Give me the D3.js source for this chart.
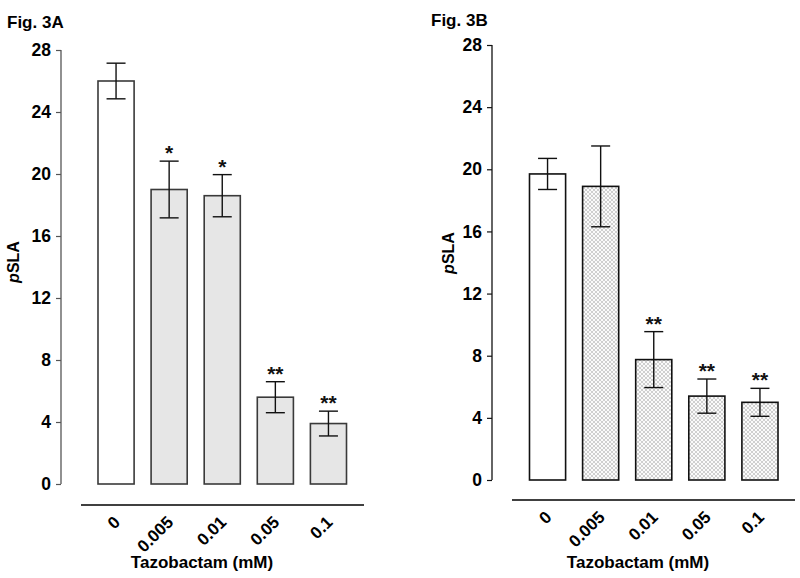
<!DOCTYPE html>
<html><head><meta charset="utf-8">
<script src="https://cdn.jsdelivr.net/npm/d3@7"></script>
<style>body{margin:0;background:#fff}svg{display:block}text{font-family:"Liberation Sans",Arial,sans-serif;font-weight:bold}</style>
</head><body>
<svg id="c" width="800" height="578"></svg>
<script>
const categories = ["0", "0.005", "0.01", "0.05", "0.1"];
const yTicks = [0, 4, 8, 12, 16, 20, 24, 28];
const meansA = [26.0, 19.0, 18.6, 5.6, 3.9];
const errA = [1.15, 1.83, 1.36, 1.0, 0.8];
const sigA = ["", "*", "*", "**", "**"];
const meansB = [19.7, 18.9, 7.75, 5.4, 5.0];
const errB = [1.0, 2.6, 1.8, 1.1, 0.9];
const sigB = ["", "", "**", "**", "**"];

const svg = d3.select("#c");
const defs = svg.append("defs");
const pat = defs.append("pattern").attr("id", "hatch").attr("patternUnits", "userSpaceOnUse")
  .attr("width", 4).attr("height", 4);
pat.append("rect").attr("width", 4).attr("height", 4).attr("fill", "#fafafa");
pat.append("path").attr("d", "M0,0L4,4M4,0L0,4").attr("stroke", "#c4c4c4").attr("stroke-width", 0.8);

function panel(cfg) {
  const g = svg.append("g");
  const y = d3.scaleLinear().domain([0, 28]).range([cfg.y0, cfg.y28]);
  const x = d3.scaleBand().domain(categories).range(cfg.xr).paddingInner(0.32).paddingOuter(0.16);
  const ax = g.append("g").attr("transform", `translate(${cfg.axX},0)`)
    .call(d3.axisLeft(y).tickValues(yTicks).tickSize(5).tickPadding(5).tickFormat(d3.format("d")));
  ax.select(".domain").attr("stroke", cfg.axColor).attr("stroke-width", 1.3).attr("d", `M0,${cfg.y28}V${cfg.y0}`);
  ax.selectAll(".tick line").attr("stroke", cfg.axColor).attr("stroke-width", 1.2);
  ax.selectAll(".tick text").attr("font-size", 17.5).attr("font-weight", "bold").attr("fill", "#000")
    .attr("font-family", '"Liberation Sans",Arial,sans-serif');
  g.selectAll("rect.bar").data(cfg.means).join("rect")
    .attr("x", (d, i) => x(categories[i])).attr("width", x.bandwidth())
    .attr("y", d => y(d)).attr("height", d => y(0) - y(d))
    .attr("fill", (d, i) => i === 0 ? "#fff" : cfg.fill)
    .attr("stroke", cfg.barStroke).attr("stroke-width", 1.6);
  const eb = g.selectAll("g.eb").data(cfg.means).join("g");
  eb.append("line").attr("x1", (d, i) => x(categories[i]) + x.bandwidth() / 2)
    .attr("x2", (d, i) => x(categories[i]) + x.bandwidth() / 2)
    .attr("y1", (d, i) => y(d + cfg.err[i])).attr("y2", (d, i) => y(d - cfg.err[i]))
    .attr("stroke", "#111").attr("stroke-width", 1.4);
  [1, -1].forEach(s => {
    eb.append("line").attr("x1", (d, i) => x(categories[i]) + x.bandwidth() / 2 - 9.5)
      .attr("x2", (d, i) => x(categories[i]) + x.bandwidth() / 2 + 9.5)
      .attr("y1", (d, i) => y(d + s * cfg.err[i])).attr("y2", (d, i) => y(d + s * cfg.err[i]))
      .attr("stroke", "#111").attr("stroke-width", 1.4);
  });
  g.selectAll("text.sig").data(cfg.means).join("text")
    .attr("x", (d, i) => x(categories[i]) + x.bandwidth() / 2)
    .attr("y", (d, i) => y(d + cfg.err[i]) - 1)
    .attr("text-anchor", "middle").attr("font-size", 21).attr("fill", "#111")
    .text((d, i) => cfg.sig[i]);
  g.append("line").attr("x1", cfg.xl[0]).attr("x2", cfg.xl[1]).attr("y1", cfg.xlY).attr("y2", cfg.xlY)
    .attr("stroke", "#000").attr("stroke-width", 1.4);
  g.selectAll("text.xt").data(categories).join("text")
    .attr("transform", d => `translate(${x(d) + x.bandwidth() / 2 + 1},${cfg.xlY + 14}) rotate(-45)`)
    .attr("text-anchor", "end").attr("dy", "0.35em").attr("font-size", 17).attr("fill", "#000")
    .text(d => d);
  g.append("text").attr("x", cfg.titleX).attr("y", 568).attr("text-anchor", "middle")
    .attr("font-size", 17).attr("fill", "#000").text("Tazobactam (mM)");
  const yt = g.append("text").attr("transform", `translate(${cfg.ylX},${cfg.ylY}) rotate(-90)`)
    .attr("text-anchor", "middle").attr("dy", "0.35em").attr("font-size", 16).attr("fill", "#000");
  yt.append("tspan").attr("font-style", "italic").text("p");
  yt.append("tspan").text("SLA");
  g.append("text").attr("x", cfg.figX).attr("y", cfg.figY).attr("font-size", 17).attr("fill", "#000").text(cfg.fig);
}

panel({ fig: "Fig. 3A", figX: 7, figY: 28, axX: 61, y0: 484, y28: 50, xr: [89.5, 355],
  means: meansA, err: errA, sig: sigA, fill: "#e6e6e6", barStroke: "#3a3a3a", axColor: "#555",
  xl: [81, 364], xlY: 505, titleX: 202, ylX: 13, ylY: 262 });
panel({ fig: "Fig. 3B", figX: 431, figY: 26, axX: 492, y0: 480, y28: 45, xr: [521, 786.5],
  means: meansB, err: errB, sig: sigB, fill: "url(#hatch)", barStroke: "#111", axColor: "#111",
  xl: [512, 795], xlY: 500, titleX: 638, ylX: 448, ylY: 253 });
</script>
</body></html>
